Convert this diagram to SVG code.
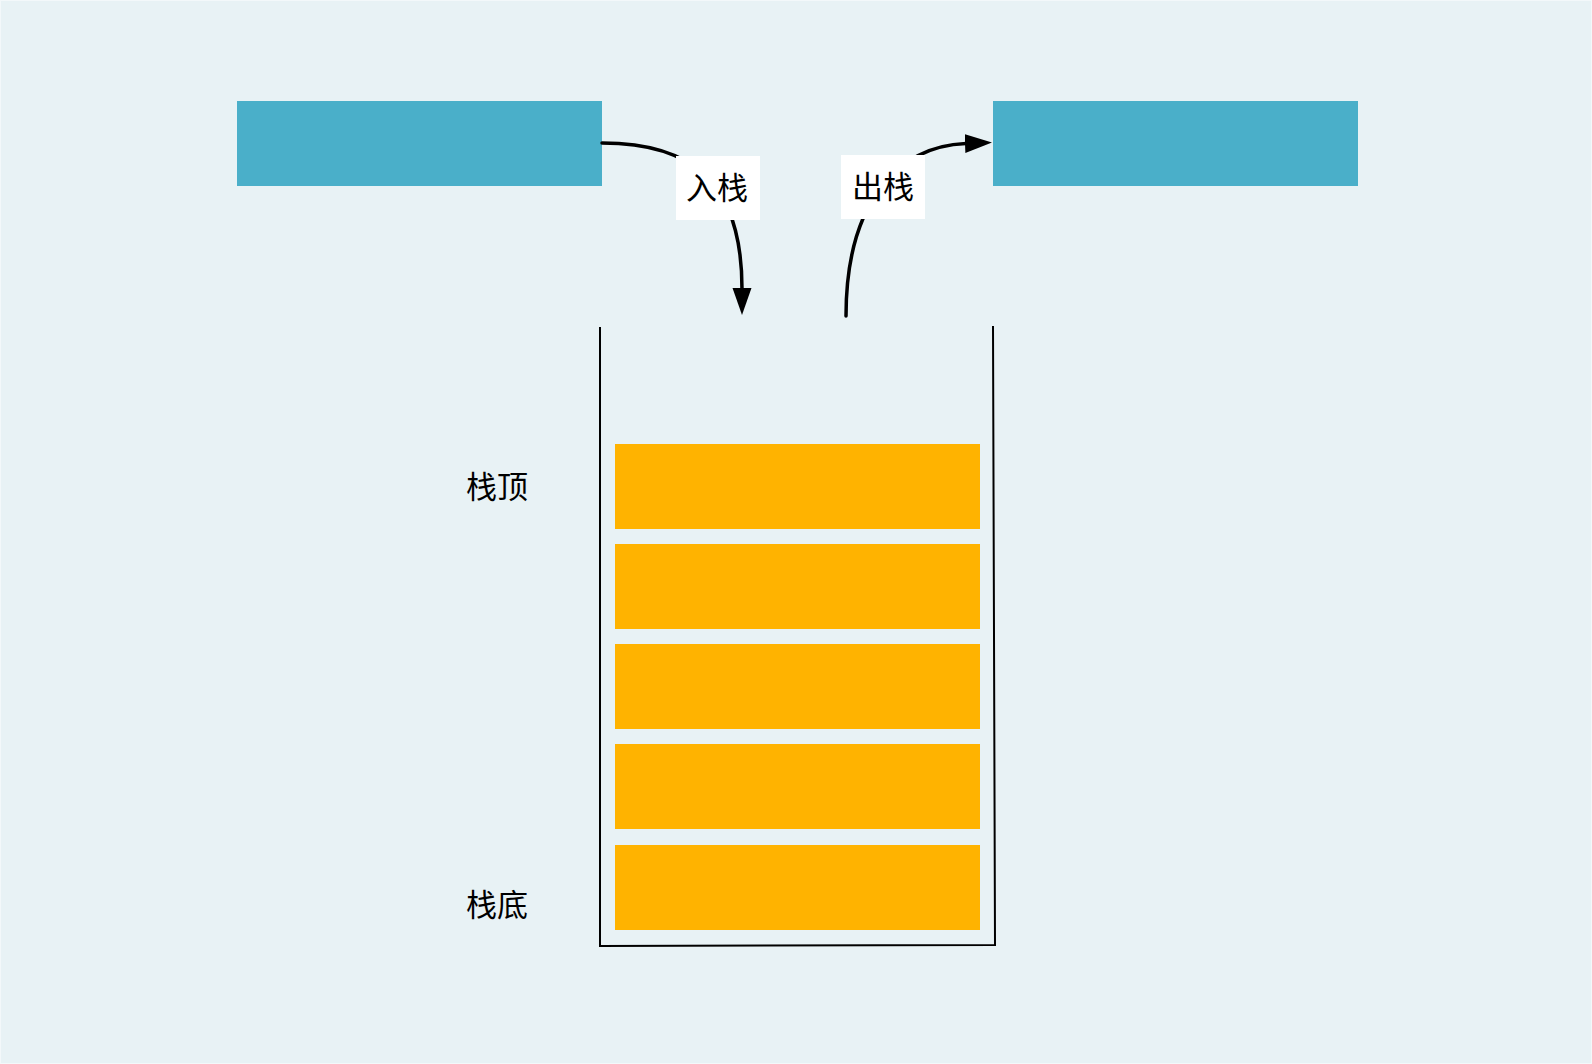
<svg xmlns="http://www.w3.org/2000/svg" width="1592" height="1064" viewBox="0 0 1592 1064">
<defs>
<style>
.bg{fill:#e8f2f5;}
.io{fill:#4aafc9;}
.item{fill:#ffb300;}
.wall{fill:none;stroke:#000;stroke-width:2;}
.conn{fill:none;stroke:#000;stroke-width:3.5;stroke-linecap:round;}
.lblbox{fill:#ffffff;}
.t{font-family:"Noto Sans CJK SC","Noto Sans",sans-serif;font-size:31px;fill:#000;text-anchor:middle;dominant-baseline:central;}
</style>
<marker id="ah" markerUnits="userSpaceOnUse" markerWidth="27" markerHeight="20" viewBox="0 0 27 20" refX="1" refY="10" orient="auto">
<path d="M0,0.5 L27,10 L0,19.5 Z" fill="#000"/>
</marker>
</defs>
<rect x="0" y="0" width="1592" height="1064" fill="#f3f8fa"/>
<rect class="bg" x="1" y="1" width="1590" height="1062"/>
<g id="push-source"><rect class="io" x="237" y="101" width="365" height="85"/></g>
<g id="pop-target"><rect class="io" x="993" y="101" width="365" height="85"/></g>
<g id="stack">
<path class="wall" d="M600,327 L600,946 L995,945 L993,326"/>
</g>
<g id="item1"><rect class="item" x="615" y="444" width="365" height="85"/></g>
<g id="item2"><rect class="item" x="615" y="544" width="365" height="85"/></g>
<g id="item3"><rect class="item" x="615" y="644" width="365" height="85"/></g>
<g id="item4"><rect class="item" x="615" y="744" width="365" height="85"/></g>
<g id="item5"><rect class="item" x="615" y="845" width="365" height="85"/></g>
<g id="label-top"><text class="t" x="497" y="484">栈顶</text></g>
<g id="label-bottom"><text class="t" x="497" y="902">栈底</text></g>
<g id="connectors">
<path class="conn" d="M602,143 C690,143 742,180 742,289" marker-end="url(#ah)"/>
<path class="conn" d="M846,316 C846,200 900,146 966,143.5" marker-end="url(#ah)"/>
<rect class="lblbox" x="676" y="156" width="84" height="64"/>
<text class="t" x="717" y="185">入栈</text>
<rect class="lblbox" x="841" y="155" width="84" height="64"/>
<text class="t" x="883" y="184">出栈</text>
</g>
</svg>
